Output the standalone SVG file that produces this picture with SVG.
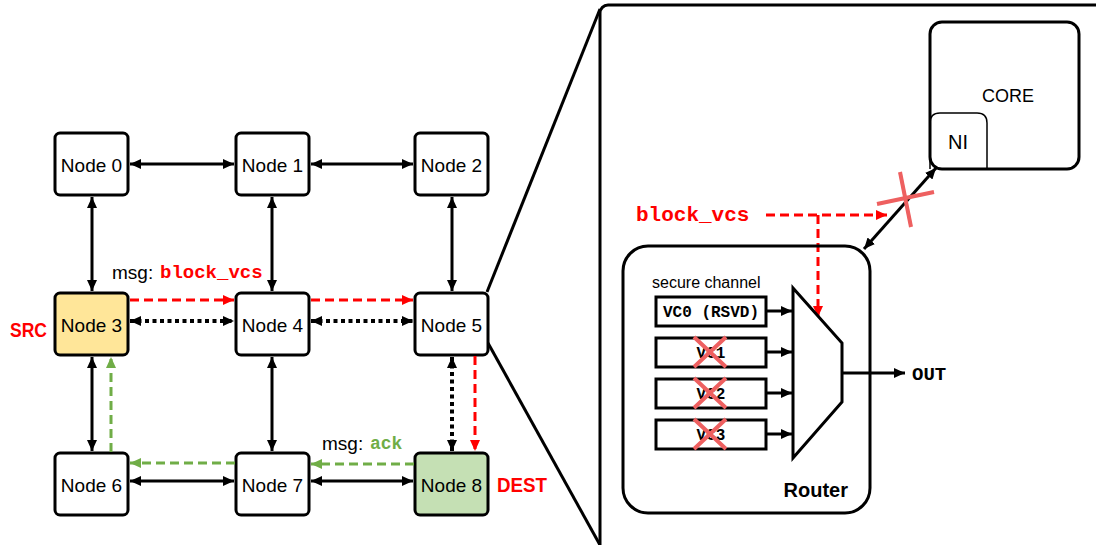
<svg xmlns="http://www.w3.org/2000/svg" width="1096" height="545" viewBox="0 0 1096 545">
  <defs>
    <marker id="ab" markerUnits="userSpaceOnUse" markerWidth="12" markerHeight="10" refX="11" refY="5" orient="auto-start-reverse">
      <path d="M0,0 L11,5 L0,10 Z" fill="#000"/>
    </marker>
    <marker id="ar" markerUnits="userSpaceOnUse" markerWidth="12" markerHeight="10" refX="11" refY="5" orient="auto-start-reverse">
      <path d="M0,0 L11,5 L0,10 Z" fill="#FF0000"/>
    </marker>
    <marker id="ag" markerUnits="userSpaceOnUse" markerWidth="12" markerHeight="10" refX="11" refY="5" orient="auto-start-reverse">
      <path d="M0,0 L11,5 L0,10 Z" fill="#70AD47"/>
    </marker>
    <style>
      .node { fill: #fff; stroke: #000; stroke-width: 3; }
      .lbl { font-family: "Liberation Sans", Arial, sans-serif; font-size: 19px; fill: #000; text-anchor: middle; }
      .sans { font-family: "Liberation Sans", Arial, sans-serif; }
      .mono { font-family: "Liberation Mono", "Courier New", monospace; font-weight: bold; }
      .redtxt { fill: #FF0000; }
      .solid { stroke: #000; stroke-width: 3; fill: none; marker-start: url(#ab); marker-end: url(#ab); }
      .dot { stroke: #000; stroke-width: 4; stroke-dasharray: 4 3.5; fill: none; marker-start: url(#ab); marker-end: url(#ab); }
      .red { stroke: #FF0000; stroke-width: 3; stroke-dasharray: 9 5; fill: none; marker-end: url(#ar); }
      .green { stroke: #70AD47; stroke-width: 3; stroke-dasharray: 9 5; fill: none; marker-end: url(#ag); }
      .blk { stroke: #000; stroke-width: 3; fill: none; }
      .cross { stroke: #EE6060; stroke-width: 4; fill: none; }
      .vc { fill: #fff; stroke: #000; stroke-width: 3; }
    </style>
  </defs>

  <!-- zoom lines and panel -->
  <g id="zoom-panel">
    <line x1="487" y1="292" x2="600" y2="9" class="blk"/>
    <line x1="488" y1="343" x2="600" y2="545" class="blk"/>
    <rect x="600" y="5" width="520" height="560" rx="8" fill="#fff" stroke="#000" stroke-width="3"/>
  </g>

  <!-- mesh nodes -->
  <g id="node0"><rect x="55" y="133" width="73" height="62" rx="5" class="node"/><text x="91.5" y="172" class="lbl">Node 0</text></g>
  <g id="node1"><rect x="236" y="133" width="73" height="62" rx="5" class="node"/><text x="272.5" y="172" class="lbl">Node 1</text></g>
  <g id="node2"><rect x="415" y="133" width="73" height="62" rx="5" class="node"/><text x="451.5" y="172" class="lbl">Node 2</text></g>
  <g id="node3"><rect x="55" y="293" width="73" height="62" rx="5" class="node" style="fill:#FFE699"/><text x="91.5" y="332" class="lbl">Node 3</text></g>
  <g id="node4"><rect x="236" y="293" width="73" height="62" rx="5" class="node"/><text x="272.5" y="332" class="lbl">Node 4</text></g>
  <g id="node5"><rect x="415" y="293" width="73" height="62" rx="5" class="node"/><text x="451.5" y="332" class="lbl">Node 5</text></g>
  <g id="node6"><rect x="55" y="453" width="73" height="62" rx="5" class="node"/><text x="91.5" y="492" class="lbl">Node 6</text></g>
  <g id="node7"><rect x="236" y="453" width="73" height="62" rx="5" class="node"/><text x="272.5" y="492" class="lbl">Node 7</text></g>
  <g id="node8"><rect x="415" y="453" width="73" height="62" rx="5" class="node" style="fill:#C5E0B4"/><text x="451.5" y="492" class="lbl">Node 8</text></g>

  <!-- mesh connectors -->
  <g id="connectors">
    <line x1="130" y1="164" x2="234" y2="164" class="solid"/>
    <line x1="311" y1="164" x2="413" y2="164" class="solid"/>
    <line x1="92" y1="197" x2="92" y2="291" class="solid"/>
    <line x1="272" y1="197" x2="272" y2="291" class="solid"/>
    <line x1="452" y1="197" x2="452" y2="291" class="solid"/>

    <line x1="130" y1="300" x2="234" y2="300" class="red"/>
    <line x1="311" y1="300" x2="413" y2="300" class="red"/>
    <line x1="130" y1="321" x2="234" y2="321" class="dot"/>
    <line x1="311" y1="321" x2="413" y2="321" class="dot"/>

    <line x1="92" y1="357" x2="92" y2="451" class="solid"/>
    <line x1="111" y1="452" x2="111" y2="357" class="green"/>
    <line x1="272" y1="357" x2="272" y2="451" class="solid"/>
    <line x1="452" y1="357" x2="452" y2="451" class="dot"/>
    <line x1="475" y1="356" x2="475" y2="451" class="red"/>

    <line x1="235" y1="463" x2="130" y2="463" class="green"/>
    <line x1="414" y1="464" x2="311" y2="464" class="green"/>
    <line x1="130" y1="481" x2="234" y2="481" class="solid"/>
    <line x1="311" y1="481" x2="413" y2="481" class="solid"/>

    <!-- router side -->
    <line x1="766" y1="215" x2="887" y2="215" class="red"/>
    <polyline points="818,215 818,317" class="red"/>
    <line x1="864" y1="249" x2="936" y2="168" class="solid"/>
    <line x1="766" y1="311" x2="792" y2="311" class="blk" marker-end="url(#ab)"/>
    <line x1="766" y1="352" x2="792" y2="352" class="blk" marker-end="url(#ab)"/>
    <line x1="766" y1="393" x2="792" y2="393" class="blk" marker-end="url(#ab)"/>
    <line x1="766" y1="434" x2="792" y2="434" class="blk" marker-end="url(#ab)"/>
    <line x1="842" y1="373" x2="905" y2="373" class="blk" marker-end="url(#ab)"/>
  </g>

  <!-- mesh labels -->
  <g id="mesh-labels">
    <text x="112" y="279" class="sans" font-size="19" fill="#000">msg:</text>
    <text x="160" y="278" class="mono redtxt" font-size="19">block_vcs</text>
    <text x="322" y="450" class="sans" font-size="19" fill="#000">msg:</text>
    <text x="370" y="449" class="mono" font-size="18" fill="#70AD47">ack</text>
    <text x="10" y="337" class="sans redtxt" font-size="21" font-weight="bold" textLength="37" lengthAdjust="spacingAndGlyphs">SRC</text>
    <text x="497" y="492" class="sans redtxt" font-size="21" font-weight="bold" textLength="50" lengthAdjust="spacingAndGlyphs">DEST</text>
  </g>

  <!-- core -->
  <g id="core">
    <rect x="930" y="22" width="149" height="147" rx="12" fill="none" stroke="#000" stroke-width="3"/>
    <text x="1008" y="102" class="sans" font-size="18" text-anchor="middle" fill="#000">CORE</text>
  </g>
  <g id="ni">
    <path d="M930,169 L930,123 Q930,113 940,113 L977,113 Q987,113 987,123 L987,169" fill="none" stroke="#000" stroke-width="1.5"/>
    <text x="958" y="149" class="sans" font-size="20" text-anchor="middle" fill="#000">NI</text>
  </g>
  <g id="link-cross">
    <line x1="877" y1="204" x2="934" y2="192" class="cross" stroke-width="5"/>
    <line x1="900" y1="172" x2="911" y2="227" class="cross" stroke-width="5"/>
  </g>
  <text x="636" y="221" class="mono redtxt" font-size="21">block_vcs</text>

  <!-- router -->
  <g id="router">
    <rect x="623" y="246" width="247" height="267" rx="25" fill="none" stroke="#000" stroke-width="3"/>
    <text x="848" y="497" class="sans" font-size="20" font-weight="bold" text-anchor="end" fill="#000">Router</text>
    <text x="652" y="288" class="sans" font-size="16" fill="#000">secure channel</text>
  </g>
  <g id="vc0">
    <rect x="656" y="297" width="110" height="29" class="vc"/>
    <text x="711" y="317" class="mono" font-size="16" text-anchor="middle">VC0 (RSVD)</text>
  </g>
  <g id="vc1">
    <rect x="656" y="338" width="110" height="29" class="vc"/>
    <text x="711" y="358" class="mono" font-size="16" text-anchor="middle">VC1</text>
    <path d="M694,337 L726,367 M726,337 L694,367" class="cross"/>
  </g>
  <g id="vc2">
    <rect x="656" y="379" width="110" height="29" class="vc"/>
    <text x="711" y="399" class="mono" font-size="16" text-anchor="middle">VC2</text>
    <path d="M694,378 L726,408 M726,378 L694,408" class="cross"/>
  </g>
  <g id="vc3">
    <rect x="656" y="420" width="110" height="29" class="vc"/>
    <text x="711" y="440" class="mono" font-size="16" text-anchor="middle">VC3</text>
    <path d="M694,419 L726,449 M726,419 L694,449" class="cross"/>
  </g>
  <g id="mux">
    <polygon points="793,288 842,343 842,402 793,458" fill="#fff" stroke="#000" stroke-width="3"/>
  </g>
  <text x="912" y="380" class="mono" font-size="19">OUT</text>
</svg>
